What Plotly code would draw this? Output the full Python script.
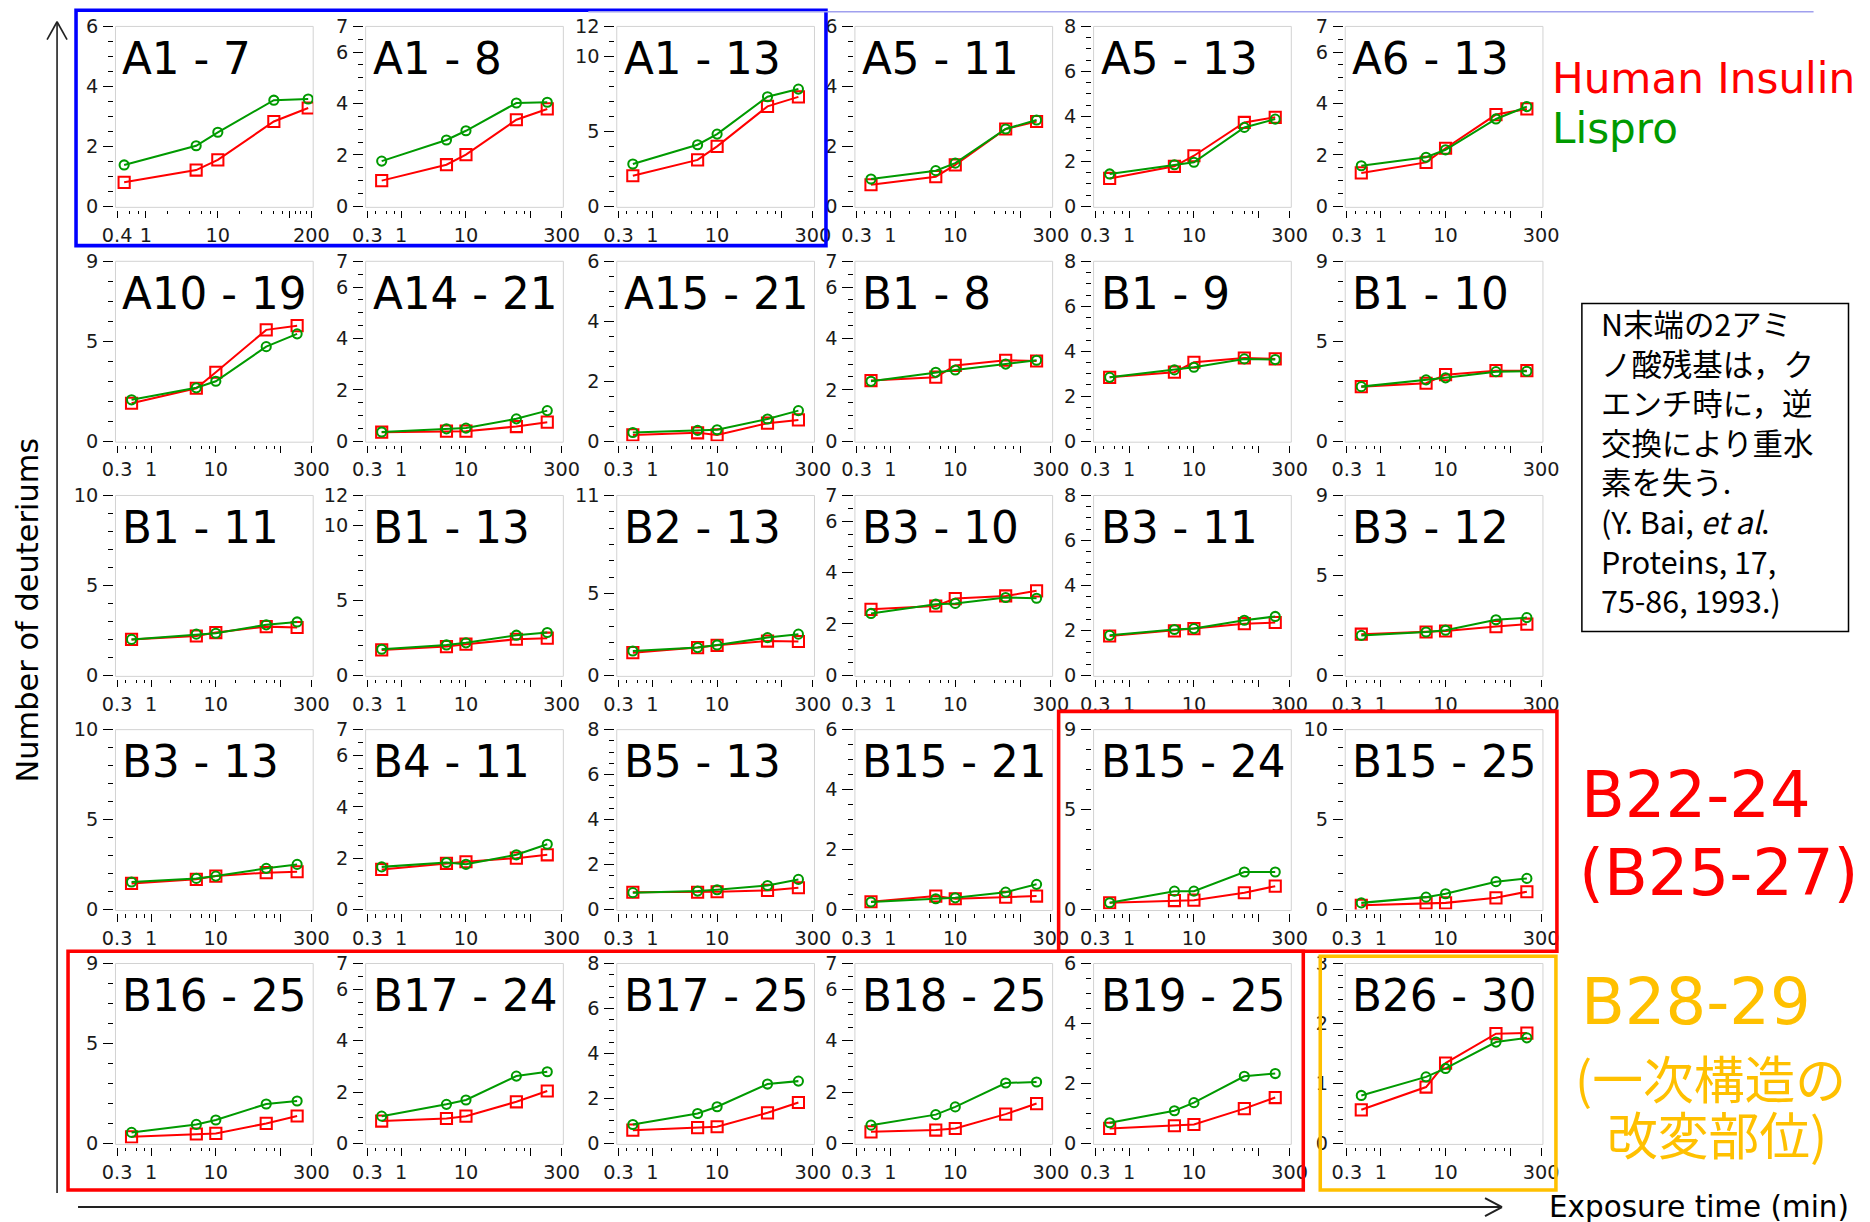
import math
import plotly.graph_objects as go

# Layout is specified in output-image pixels (1870 x 1222).  The page shows the
# figure inside the body margin and the captured page is slightly reduced, so
# positions and sizes are mapped through that offset and scale.
OUT_W, OUT_H = 1870, 1222
BODY_MARGIN = 8
X_SHIFT, X_SCALE = 5.0, 0.985
Y_SHIFT, Y_SCALE = 2.4, 0.982
SZ = 1 / 0.985                    # size compensation for fonts, strokes, ticks
FW, FH = 1890, 1240               # figure size in page pixels

# ---------------------------------------------------------------- data
PEPTIDES = [
    "A1 - 7", "A1 - 8", "A1 - 13", "A5 - 11", "A5 - 13", "A6 - 13",
    "A10 - 19", "A14 - 21", "A15 - 21", "B1 - 8", "B1 - 9", "B1 - 10",
    "B1 - 11", "B1 - 13", "B2 - 13", "B3 - 10", "B3 - 11", "B3 - 12",
    "B3 - 13", "B4 - 11", "B5 - 13", "B15 - 21", "B15 - 24", "B15 - 25",
    "B16 - 25", "B17 - 24", "B17 - 25", "B18 - 25", "B19 - 25", "B26 - 30",
]
# maximum number of exchangeable deuteriums (y-axis top) per peptide
Y_MAX = [6, 7, 12, 6, 8, 7,
         9, 7, 6, 7, 8, 9,
         10, 12, 11, 7, 8, 9,
         10, 7, 8, 6, 9, 10,
         9, 7, 8, 7, 6, 3]

TIMES = [0.5, 5, 10, 60, 180]  # exposure time (min)

HUMAN = [
    [0.80, 1.21, 1.55, 2.83, 3.28],  # A1-7
    [1.00, 1.62, 2.01, 3.37, 3.79],  # A1-8
    [2.04, 3.10, 4.00, 6.67, 7.30],  # A1-13
    [0.72, 0.99, 1.38, 2.58, 2.83],  # A5-11
    [1.24, 1.78, 2.25, 3.73, 3.96],  # A5-13
    [1.30, 1.71, 2.26, 3.57, 3.79],  # A6-13
    [1.90, 2.65, 3.45, 5.57, 5.78],  # A10-19
    [0.35, 0.39, 0.39, 0.57, 0.74],  # A14-21
    [0.21, 0.28, 0.21, 0.60, 0.71],  # A15-21
    [2.36, 2.49, 2.95, 3.15, 3.12],  # B1-8
    [2.84, 3.07, 3.51, 3.70, 3.66],  # B1-9
    [2.73, 2.90, 3.33, 3.53, 3.53],  # B1-10
    [2.00, 2.19, 2.38, 2.71, 2.66],  # B1-11
    [1.70, 1.92, 2.08, 2.41, 2.48],  # B1-13
    [1.39, 1.70, 1.84, 2.10, 2.07],  # B2-13
    [2.57, 2.70, 2.99, 3.09, 3.29],  # B3-10
    [1.75, 1.98, 2.08, 2.30, 2.35],  # B3-11
    [2.06, 2.17, 2.22, 2.44, 2.56],  # B3-12
    [1.45, 1.68, 1.86, 2.05, 2.10],  # B3-13
    [1.56, 1.80, 1.86, 2.00, 2.13],  # B4-11
    [0.77, 0.77, 0.79, 0.85, 0.97],  # B5-13
    [0.26, 0.45, 0.36, 0.41, 0.45],  # B15-21
    [0.34, 0.45, 0.47, 0.84, 1.17],  # B15-24
    [0.24, 0.37, 0.37, 0.65, 0.99],  # B15-25
    [0.33, 0.47, 0.50, 1.00, 1.37],  # B16-25
    [0.87, 0.97, 1.06, 1.62, 2.04],  # B17-24
    [0.59, 0.70, 0.74, 1.36, 1.82],  # B17-25
    [0.45, 0.52, 0.58, 1.14, 1.55],  # B18-25
    [0.50, 0.59, 0.63, 1.16, 1.53],  # B19-25
    [0.56, 0.94, 1.34, 1.83, 1.84],  # B26-30
]

LISPRO = [
    [1.38, 2.02, 2.47, 3.54, 3.58],  # A1-7
    [1.76, 2.58, 2.94, 4.02, 4.05],  # A1-8
    [2.82, 4.11, 4.82, 7.31, 7.82],  # A1-13
    [0.91, 1.19, 1.44, 2.58, 2.88],  # A5-11
    [1.44, 1.85, 1.96, 3.51, 3.88],  # A5-13
    [1.58, 1.91, 2.20, 3.40, 3.88],  # A6-13
    [2.07, 2.67, 3.00, 4.73, 5.37],  # A10-19
    [0.36, 0.48, 0.51, 0.87, 1.19],  # A14-21
    [0.29, 0.36, 0.38, 0.74, 1.02],  # A15-21
    [2.33, 2.68, 2.77, 3.00, 3.15],  # B1-8
    [2.84, 3.17, 3.29, 3.66, 3.63],  # B1-9
    [2.73, 3.07, 3.17, 3.48, 3.50],  # B1-10
    [2.00, 2.29, 2.34, 2.81, 2.97],  # B1-11
    [1.74, 2.03, 2.17, 2.68, 2.86],  # B1-13
    [1.49, 1.70, 1.86, 2.31, 2.52],  # B2-13
    [2.41, 2.77, 2.80, 3.03, 3.00],  # B3-10
    [1.78, 2.04, 2.08, 2.45, 2.62],  # B3-11
    [2.00, 2.17, 2.26, 2.78, 2.89],  # B3-12
    [1.53, 1.73, 1.86, 2.29, 2.51],  # B3-13
    [1.66, 1.83, 1.76, 2.13, 2.54],  # B4-11
    [0.75, 0.82, 0.88, 1.07, 1.34],  # B5-13
    [0.25, 0.36, 0.39, 0.58, 0.84],  # B15-21
    [0.34, 0.92, 0.92, 1.88, 1.88],  # B15-24
    [0.37, 0.69, 0.88, 1.55, 1.73],  # B15-25
    [0.55, 0.95, 1.17, 1.97, 2.12],  # B16-25
    [1.06, 1.52, 1.69, 2.62, 2.79],  # B17-24
    [0.84, 1.33, 1.63, 2.64, 2.77],  # B17-25
    [0.71, 1.12, 1.42, 2.35, 2.39],  # B18-25
    [0.69, 1.09, 1.36, 2.24, 2.33],  # B19-25
    [0.80, 1.11, 1.25, 1.69, 1.76],  # B26-30
]

X_TICKS = [0.3, 1, 10, 100, 300]
X_TICK_TEXT = ["0.3", "1", "10", "", "300"]
X_MINOR = [0.4, 0.6, 0.8, 2, 4, 6, 8, 20, 40, 60, 80]
# the first panel uses a shorter time axis
X_TICKS_FIRST = [0.4, 1, 10, 100, 200]
X_TICK_TEXT_FIRST = ["0.4", "1", "10", "", "200"]
X_MINOR_FIRST = [0.6, 0.8, 2, 4, 6, 8, 20, 40, 60, 80, 120, 140, 170]

SERIES_NAMES = ["Human Insulin", "Lispro"]

NOTE_LINES = ["N末端の2アミ", "ノ酸残基は，ク", "エンチ時に，逆", "交換により重水",
              "素を失う.", "(Y. Bai, <i>et al</i>.", "Proteins, 17,", "75-86, 1993.)"]

# ---------------------------------------------------------------- styling
RED = "#ff0000"
GREEN = "#009a00"
ORANGE = "#ffc000"
BLUE = "#0000ff"
FONT = "DejaVu Sans"
JP_FONT = "Noto Sans CJK JP"

# panel frames in output pixels
COL_LEFT = [114.5, 365, 616.5, 855, 1094, 1346]
ROW_TOP = [25.7, 260.7, 495, 729.3, 963.3]
PANEL_W = 198
PANEL_H = 180


def fx(x):
    return ((x - X_SHIFT) / X_SCALE - BODY_MARGIN) / FW


def fy(y):
    return 1 - ((y - Y_SHIFT) / Y_SCALE - BODY_MARGIN) / FH


def sz(v):
    return v * SZ


def y_ticks(ymax):
    if ymax <= 3:
        major = list(range(0, ymax + 1))
        step = 0.2
    elif ymax <= 8:
        major = list(range(0, ymax + 1, 2))
        if ymax not in major:
            major.append(ymax)
        step = 0.5
    else:
        major = [v for v in (0, 5, 10) if v <= ymax and not (ymax - v == 1 and v == 10)]
        if ymax not in major:
            major.append(ymax)
        step = 1
    n = int(round(ymax / step))
    minor = [round(i * step, 3) for i in range(n + 1)]
    minor = [m for m in minor if all(abs(m - v) > 1e-6 for v in major)]
    return major, minor


fig = go.Figure()
shapes = []
annotations = []
layout = {}
tick_font = dict(family=FONT, size=sz(19), color="#1a1a1a")

for i, name in enumerate(PEPTIDES):
    r, c = divmod(i, 6)
    left = COL_LEFT[c]
    top = ROW_TOP[r]
    right = left + PANEL_W
    bottom = top + PANEL_H
    k = i + 1
    xa = "x" if k == 1 else f"x{k}"
    ya = "y" if k == 1 else f"y{k}"
    xkey = "xaxis" if k == 1 else f"xaxis{k}"
    ykey = "yaxis" if k == 1 else f"yaxis{k}"

    if i == 0:
        lo, hi = 0.4, 200
        tv, tt, mv = X_TICKS_FIRST, X_TICK_TEXT_FIRST, X_MINOR_FIRST
    else:
        lo, hi = 0.3, 300
        tv, tt, mv = X_TICKS, X_TICK_TEXT, X_MINOR
    span = math.log10(hi) - math.log10(lo)
    pad = span * 1.7 / (PANEL_W - 3.4)

    layout[xkey] = dict(
        type="log", domain=[fx(left), fx(right)],
        range=[math.log10(lo) - pad, math.log10(hi) + pad],
        anchor="free", position=fy(bottom + 3.5),
        tickmode="array", tickvals=tv, ticktext=tt,
        ticks="outside", ticklen=sz(7.5), tickwidth=1, tickcolor="#000",
        minor=dict(tickmode="array", tickvals=mv, ticks="outside",
                   ticklen=sz(3.5), tickwidth=1, tickcolor="#000", showgrid=False),
        showline=False, showgrid=False, zeroline=False,
        tickfont=tick_font, fixedrange=True,
    )
    major, minor = y_ticks(Y_MAX[i])
    layout[ykey] = dict(
        domain=[fy(bottom), fy(top)], range=[0, Y_MAX[i]],
        anchor="free", position=fx(left - 2.3),
        tickmode="array", tickvals=major, ticktext=[str(v) for v in major],
        ticks="outside", ticklen=sz(10), tickwidth=1, tickcolor="#000",
        minor=dict(tickmode="array", tickvals=minor, ticks="outside",
                   ticklen=sz(5), tickwidth=1, tickcolor="#000", showgrid=False),
        showline=False, showgrid=False, zeroline=False,
        tickfont=tick_font, ticklabelstandoff=1, fixedrange=True,
    )

    # light grey frame of each panel
    shapes.append(dict(type="rect", xref="paper", yref="paper",
                       x0=fx(left), x1=fx(right), y0=fy(bottom + 1), y1=fy(top),
                       line=dict(color="#d2d2d2", width=1), layer="below"))

    fig.add_trace(go.Scatter(
        x=TIMES, y=HUMAN[i], xaxis=xa, yaxis=ya, mode="lines+markers",
        name=SERIES_NAMES[0], showlegend=False,
        line=dict(color=RED, width=sz(2)),
        marker=dict(symbol="square-open", size=sz(11), color=RED,
                    line=dict(width=sz(2), color=RED)),
    ))
    fig.add_trace(go.Scatter(
        x=TIMES, y=LISPRO[i], xaxis=xa, yaxis=ya, mode="lines+markers",
        name=SERIES_NAMES[1], showlegend=False,
        line=dict(color=GREEN, width=sz(2)),
        marker=dict(symbol="circle-open", size=sz(9), color=GREEN,
                    line=dict(width=sz(2), color=GREEN)),
    ))

    annotations.append(dict(
        text=name, xref="paper", yref="paper",
        x=fx(left + 5), y=fy(top + 32), xanchor="left", yanchor="middle",
        showarrow=False, font=dict(family=FONT, size=sz(43), color="#000"),
    ))


# highlighted groups of panels
def frame(x0, y0, x1, y1, color, width):
    shapes.append(dict(type="rect", xref="paper", yref="paper",
                       x0=fx(x0), x1=fx(x1), y0=fy(y1), y1=fy(y0),
                       line=dict(color=color, width=sz(width)), layer="above"))


frame(75, 9.6, 826, 245, BLUE, 3.5)
frame(1059, 711, 1558, 951, RED, 3.5)
frame(67, 951, 1304, 1190, RED, 3.5)
frame(1321, 956, 1557, 1190, ORANGE, 3.5)

# faint rule along the top edge
shapes.append(dict(type="line", xref="paper", yref="paper",
                   x0=fx(588), x1=fx(1815), y0=0.9994, y1=0.9994,
                   line=dict(color="#a0a0ee", width=1.5)))


def seg(x0, y0, x1, y1, width=1.6, color="#222"):
    shapes.append(dict(type="line", xref="paper", yref="paper",
                       x0=fx(x0), x1=fx(x1), y0=fy(y0), y1=fy(y1),
                       line=dict(color=color, width=sz(width))))


# axis arrows
seg(56, 1193, 56, 21)
seg(56, 21, 46, 39)
seg(56, 21, 66, 39)
seg(77, 1207, 1503, 1207, width=2)
seg(1503, 1207, 1486, 1198, width=2)
seg(1503, 1207, 1486, 1216, width=2)

# note box
shapes.append(dict(type="rect", xref="paper", yref="paper",
                   x0=fx(1583), x1=fx(1850), y0=fy(631), y1=fy(303),
                   line=dict(color="#000", width=sz(1.5))))


def label(text, x, y, size, color="#000", family=FONT, xanchor="left",
          yanchor="middle", angle=0, align="left"):
    annotations.append(dict(text=text, xref="paper", yref="paper",
                            x=fx(x), y=fy(y), xanchor=xanchor, yanchor=yanchor,
                            textangle=angle, align=align, showarrow=False,
                            font=dict(family=family, size=sz(size), color=color)))


label("Human Insulin", 1551, 77.5, 41.5, RED)
label("Lispro", 1551, 127.5, 41.5, GREEN)
label("<br>".join(NOTE_LINES), 1600, 461, 30, family=JP_FONT)
label("B22-24", 1580, 795, 63, RED)
label("(B25-27)", 1578, 873, 63, RED)
label("B28-29", 1580, 1002, 63, ORANGE)
label("(一次構造の", 1712, 1077, 50, ORANGE, family=JP_FONT, xanchor="center")
label("改変部位)", 1718, 1133, 50, ORANGE, family=JP_FONT, xanchor="center")
label("Exposure time (min)", 1548, 1207, 29)
label("Number of deuteriums", 26, 610, 30, xanchor="center", angle=-90)

fig.update_layout(
    width=FW, height=FH, margin=dict(l=0, r=0, t=0, b=0),
    paper_bgcolor="white", plot_bgcolor="rgba(0,0,0,0)",
    showlegend=False, shapes=shapes, annotations=annotations,
    **layout,
)

fig.write_html("out.html")
